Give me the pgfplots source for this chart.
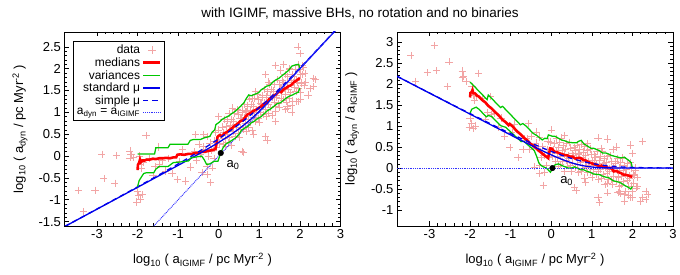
\documentclass[border=0pt]{standalone}
\usepackage{fontspec}
\setmainfont{Liberation Sans}
\usepackage{pgfplots}
\pgfplotsset{compat=1.18}
\usepackage{pgfplotstable}

\definecolor{ptpink}{RGB}{242,165,165}
\definecolor{ptred}{RGB}{255,0,0}
\definecolor{ptgreen}{RGB}{0,200,0}
\definecolor{ptblue}{RGB}{0,0,235}
\definecolor{ptdot}{RGB}{50,50,255}

\pgfplotstableread{
x y
-3.46 -0.78
-3.34 -1.27
-3.05 -0.78
-2.88 0.04
-2.83 -0.51
-2.56 -0.62
-2.52 0.01
-2.19 0.12
-2.16 0.03
-2.19 -0.04
-2.10 -0.03
-2.02 -1.05
-1.97 -0.90
-1.88 -0.88
-2.00 -0.81
-1.93 -0.98
-1.79 0.47
-1.92 -0.19
-1.90 -0.29
-1.62 -0.45
-1.57 -0.24
-1.49 0.21
-1.47 -0.19
-1.31 -0.34
-1.24 -0.05
-1.15 -0.40
-1.02 -0.53
-0.82 -0.57
-0.70 -0.25
-0.66 0.04
-0.57 0.49
-0.97 -0.12
-1.70 -0.05
-1.95 0.00
-1.85 -0.15
-1.40 -0.10
-0.90 0.15
-0.49 0.27
-0.41 -0.38
-0.37 0.49
-0.33 0.15
-0.29 -0.42
-0.29 0.45
-0.29 -0.23
-0.20 -0.61
-0.16 -0.27
-0.45 0.05
-0.38 0.22
-0.25 0.00
-0.22 0.30
-0.18 0.12
-0.12 -0.05
-0.10 0.35
-0.08 0.55
-0.05 0.20
-0.02 0.60
0.00 0.91
0.02 0.30
0.05 0.48
-0.60 0.10
-0.55 -0.10
0.08 0.668
0.10 0.268
0.12 0.538
0.13 0.842
0.15 0.402
0.17 0.222
0.18 0.676
0.20 0.806
0.22 0.506
0.23 0.31
0.25 0.97
0.27 0.43
0.28 0.704
0.30 0.844
0.32 0.244
0.33 0.658
0.35 0.808
0.37 0.558
0.38 0.972
0.40 0.452
0.42 0.722
0.43 0.666
0.45 1.066
0.47 0.526
0.48 0.96
0.50 0.43
0.52 0.86
0.53 0.654
0.55 0.854
0.57 1.054
0.58 1.008
0.60 0.608
0.62 0.878
0.63 1.182
0.65 0.742
0.67 0.562
0.68 1.016
0.70 1.146
0.72 0.846
0.73 0.65
0.75 1.31
0.77 0.77
0.78 1.044
0.80 1.184
0.82 0.584
0.83 0.998
0.85 1.148
0.87 0.898
0.88 1.312
0.90 0.792
0.92 1.062
0.93 1.006
0.95 1.406
0.97 0.866
0.98 1.30
1.00 0.77
1.02 1.20
1.03 0.994
1.05 1.194
1.07 1.394
1.08 1.348
1.10 0.948
1.12 1.218
1.13 1.522
1.15 1.082
1.17 0.902
1.18 1.356
1.20 1.486
1.22 1.186
1.23 0.99
1.25 1.65
1.27 1.11
1.28 1.384
1.30 1.524
1.32 0.924
1.33 1.338
1.35 1.488
1.37 1.238
1.38 1.652
1.40 1.132
1.42 1.402
1.43 1.346
1.45 1.746
1.47 1.206
1.48 1.64
1.50 1.11
1.52 1.54
1.53 1.334
1.55 1.534
1.57 1.734
1.58 1.688
1.60 1.288
1.62 1.558
1.63 1.862
1.65 1.422
1.67 1.242
1.68 1.696
1.70 1.826
1.72 1.526
1.73 1.33
1.75 1.99
1.77 1.45
1.78 1.724
1.80 1.864
1.82 1.264
1.83 1.678
1.85 1.828
1.87 1.578
1.88 1.992
1.90 1.472
1.92 1.742
1.93 1.686
1.95 2.086
1.97 1.546
1.98 1.98
2.00 1.45
2.02 1.88
2.03 1.674
2.05 1.874
2.07 2.074
2.08 2.028
2.10 1.628
2.12 1.898
1.95 2.50
2.00 2.35
2.33 1.78
2.33 1.59
2.13 1.70
1.15 1.87
1.39 2.08
1.52 1.97
0.90 1.48
1.23 1.70
0.82 1.33
0.66 1.02
0.33 1.10
1.39 1.02
1.64 1.06
1.80 1.17
1.39 0.80
1.15 0.45
1.19 0.37
0.57 0.11
0.61 0.08
0.85 0.50
2.25 2.89
2.38 1.75
2.20 1.40
1.95 1.25
1.70 1.10
2.25 1.55
1.60 2.10
1.75 2.00
1.80 1.00
1.68 1.13
1.90 1.25
2.00 1.30
}\scatterdata

\pgfplotstableread{
x y
-2.00 -0.32
-1.99 -0.20
-1.96 -0.15
-1.94 -0.08
-1.92 -0.14
-1.88 -0.10
-1.82 -0.10
-1.78 -0.08
-1.70 -0.08
-1.62 -0.06
-1.55 -0.07
-1.47 -0.05
-1.38 -0.05
-1.30 -0.04
-1.20 -0.05
-1.12 -0.03
-1.05 -0.03
-1.02 0.03
-0.95 0.04
-0.85 0.03
-0.75 0.05
-0.66 0.05
-0.58 0.07
-0.50 0.07
-0.41 0.10
-0.33 0.10
-0.25 0.12
-0.15 0.14
-0.08 0.16
-0.05 0.30
-0.03 0.44
0.02 0.48
0.08 0.46
0.14 0.52
0.20 0.55
0.27 0.60
0.33 0.64
0.40 0.70
0.47 0.74
0.53 0.80
0.60 0.82
0.66 0.90
0.72 0.96
0.78 0.98
0.85 1.03
0.92 1.06
0.98 1.10
1.05 1.14
1.12 1.20
1.18 1.22
1.24 1.30
1.30 1.32
1.36 1.38
1.42 1.42
1.48 1.48
1.54 1.46
1.60 1.53
1.66 1.56
1.72 1.60
1.78 1.62
1.84 1.68
1.90 1.72
1.96 1.76
2.00 1.79
}\mediandata

\pgfplotstableread{
x y
-2.00 0.05
-1.58 0.05
-1.55 0.19
-1.25 0.19
-1.20 0.27
-0.76 0.27
-0.70 0.36
-0.62 0.38
-0.45 0.38
-0.35 0.42
-0.22 0.45
-0.16 0.55
-0.10 0.60
-0.07 0.72
0.02 0.78
0.08 0.84
0.16 0.88
0.25 0.92
0.33 0.98
0.40 1.02
0.47 1.08
0.55 1.15
0.62 1.22
0.68 1.32
0.74 1.40
0.80 1.38
0.90 1.42
0.98 1.45
1.05 1.52
1.12 1.56
1.18 1.60
1.26 1.62
1.34 1.70
1.40 1.74
1.48 1.78
1.56 1.84
1.64 1.90
1.72 1.96
1.80 2.06
1.90 2.09
1.97 2.10
2.00 2.00
}\upperdata

\pgfplotstableread{
x y
-2.00 -0.70
-1.96 -0.56
-1.92 -0.50
-1.85 -0.40
-1.78 -0.38
-1.60 -0.38
-1.55 -0.30
-1.47 -0.24
-1.25 -0.24
-1.12 -0.15
-0.90 -0.13
-0.74 -0.11
-0.68 -0.04
-0.55 -0.02
-0.42 0.00
-0.36 -0.08
-0.30 -0.19
-0.22 -0.18
-0.12 -0.12
-0.02 -0.12
0.04 0.05
0.10 0.18
0.18 0.28
0.26 0.32
0.34 0.37
0.42 0.42
0.50 0.50
0.57 0.60
0.64 0.64
0.72 0.68
0.80 0.76
0.88 0.80
0.96 0.86
1.04 0.90
1.12 0.97
1.20 1.04
1.28 1.08
1.36 1.14
1.44 1.20
1.52 1.22
1.60 1.28
1.68 1.34
1.74 1.37
1.82 1.40
1.90 1.44
1.96 1.46
2.00 1.56
}\lowerdata

\pgfplotstableread{
x left right
-3.8 -1.615 2.185
-3.5 -1.465 2.035
-3.0 -1.215 1.785
-2.5 -0.965 1.535
-2.0 -0.715 1.285
-1.5 -0.464 1.036
-1.25 -0.338 0.912
-1.0 -0.212 0.788
-0.75 -0.085 0.665
-0.5 0.044 0.544
-0.25 0.177 0.427
0.0 0.314 0.314
0.25 0.462 0.212
0.5 0.625 0.125
0.75 0.812 0.062
1.0 1.025 0.025
1.25 1.259 0.009
1.5 1.503 0.003
1.75 1.751 0.001
2.0 2.000 0.000
2.5 2.500 0.000
3.0 3.000 0.000
}\stdmu

\pgfplotstableread{
x left right
-3.8 -1.614 2.186
-3.5 -1.463 2.037
-3.0 -1.2115 1.7885
-2.5 -0.959 1.541
-2.0 -0.704 1.296
-1.5 -0.445 1.055
-1.25 -0.313 0.937
-1.0 -0.179 0.821
-0.75 -0.043 0.707
-0.5 0.098 0.598
-0.25 0.244 0.494
0.0 0.396 0.396
0.25 0.557 0.307
0.5 0.729 0.229
0.75 0.913 0.163
1.0 1.110 0.110
1.25 1.321 0.071
1.5 1.544 0.044
1.75 1.776 0.026
2.0 2.015 0.015
2.5 2.505 0.005
3.0 3.0016 0.0016
}\simplemu

\pgfplotsset{
  panel/.style={
    scale only axis, width=276pt, height=194pt,
    xmin=-3.8, xmax=3,
    xtick={-3,-2,-1,0,1,2,3},
    minor x tick num=4, minor y tick num=4,
    tick align=inside, xtick pos=both, ytick pos=both,
    major tick length=4.5pt, minor tick length=2.5pt,
    tick style={black, line width=0.6pt},
    axis line style={line width=0.8pt},
    clip marker paths=true,
    /pgf/number format/assume math mode=true,
    tick label style={font=\fontsize{13}{15}\selectfont},
    label style={font=\fontsize{13}{15}\selectfont},
    xlabel={log\textsubscript{10} ( a\textsubscript{IGIMF} / pc Myr\textsuperscript{-2} )},
    xlabel style={at={(axis description cs:0.5,-0.175)}, anchor=center},
  },
  datast/.style={only marks, mark=+, mark size=3.6pt, color=ptpink, mark options={line width=0.55pt}},
  medst/.style={color=ptred, mark=none, line width=2.6pt},
  varst/.style={color=ptgreen, mark=none, line width=1.25pt},
  stdst/.style={color=ptblue, mark=none, line width=1.3pt, smooth},
  simst/.style={color=ptblue, mark=none, line width=1.3pt, dash pattern=on 5pt off 4pt, smooth},
  dotst/.style={color=ptdot, mark=none, line width=1pt, dash pattern=on 0.9pt off 0.9pt},
}

\begin{document}
\begin{tikzpicture}
\path[use as bounding box] (0pt,0pt) rectangle (680pt,275pt);
\node[font=\fontsize{13.5}{15}\selectfont] at (360pt,262pt) {with IGIMF, massive BHs, no rotation and no binaries};

\begin{axis}[panel, at={(64.5pt,49pt)}, anchor=south west,
  ymin=-1.6, ymax=2.84,
  ytick={-1.5,-1,-0.5,0,0.5,1,1.5,2,2.5},
  ylabel={log\textsubscript{10} ( a\textsubscript{dyn} / pc Myr\textsuperscript{-2} )},
  ylabel style={at={(axis description cs:-0.161,0.5)}, anchor=center},
  legend plot pos=right, legend cell align=right,
  legend style={at={(0.03,0.955)}, anchor=north west, draw=black,
    font=\fontsize{12}{12}\selectfont, fill=white, inner sep=2pt, row sep=-1.5pt},
]
\addplot[datast] table[x=x,y=y] {\scatterdata};
\addlegendentry{data}
\addplot[medst] table[x=x,y=y] {\mediandata};
\addlegendentry{medians}
\addplot[varst] table[x=x,y=y] {\upperdata};
\addlegendentry{variances}
\addplot[stdst] table[x=x,y=left] {\stdmu};
\addlegendentry{standard μ}
\addplot[simst] table[x=x,y=left] {\simplemu};
\addlegendentry{simple μ}
\addplot[dotst] coordinates {(-1.6,-1.6) (2.84,2.84)};
\addlegendentry{a\textsubscript{dyn} = a\textsubscript{IGIMF}}
\addplot[varst, forget plot] table[x=x,y=y] {\lowerdata};
\addplot[only marks, mark=*, mark size=2.8pt, black, forget plot] coordinates {(0.05,0.07)};
\node[anchor=center, font=\fontsize{13}{15}\selectfont] at (axis cs:0.35,-0.2) {a\textsubscript{0}};
\end{axis}

\begin{axis}[panel, at={(397pt,49pt)}, anchor=south west,
  ymin=-1.38, ymax=3.24,
  ytick={-1,-0.5,0,0.5,1,1.5,2,2.5,3},
  ylabel={log\textsubscript{10} ( a\textsubscript{dyn} / a\textsubscript{IGIMF} )},
  ylabel style={at={(axis description cs:-0.163,0.5)}, anchor=center},
]
\addplot[datast] table[x=x,y expr=\thisrow{y}-\thisrow{x}] {\scatterdata};
\addplot[medst] table[x=x,y expr=\thisrow{y}-\thisrow{x}] {\mediandata};
\addplot[varst] table[x=x,y expr=\thisrow{y}-\thisrow{x}] {\upperdata};
\addplot[varst] table[x=x,y expr=\thisrow{y}-\thisrow{x}] {\lowerdata};
\addplot[stdst] table[x=x,y=right] {\stdmu};
\addplot[simst] table[x=x,y=right] {\simplemu};
\addplot[dotst] coordinates {(-3.8,0) (3,0)};
\addplot[only marks, mark=*, mark size=2.8pt, black] coordinates {(0.03,0.0)};
\node[anchor=center, font=\fontsize{13}{15}\selectfont] at (axis cs:0.38,-0.31) {a\textsubscript{0}};
\end{axis}
\end{tikzpicture}
\end{document}
